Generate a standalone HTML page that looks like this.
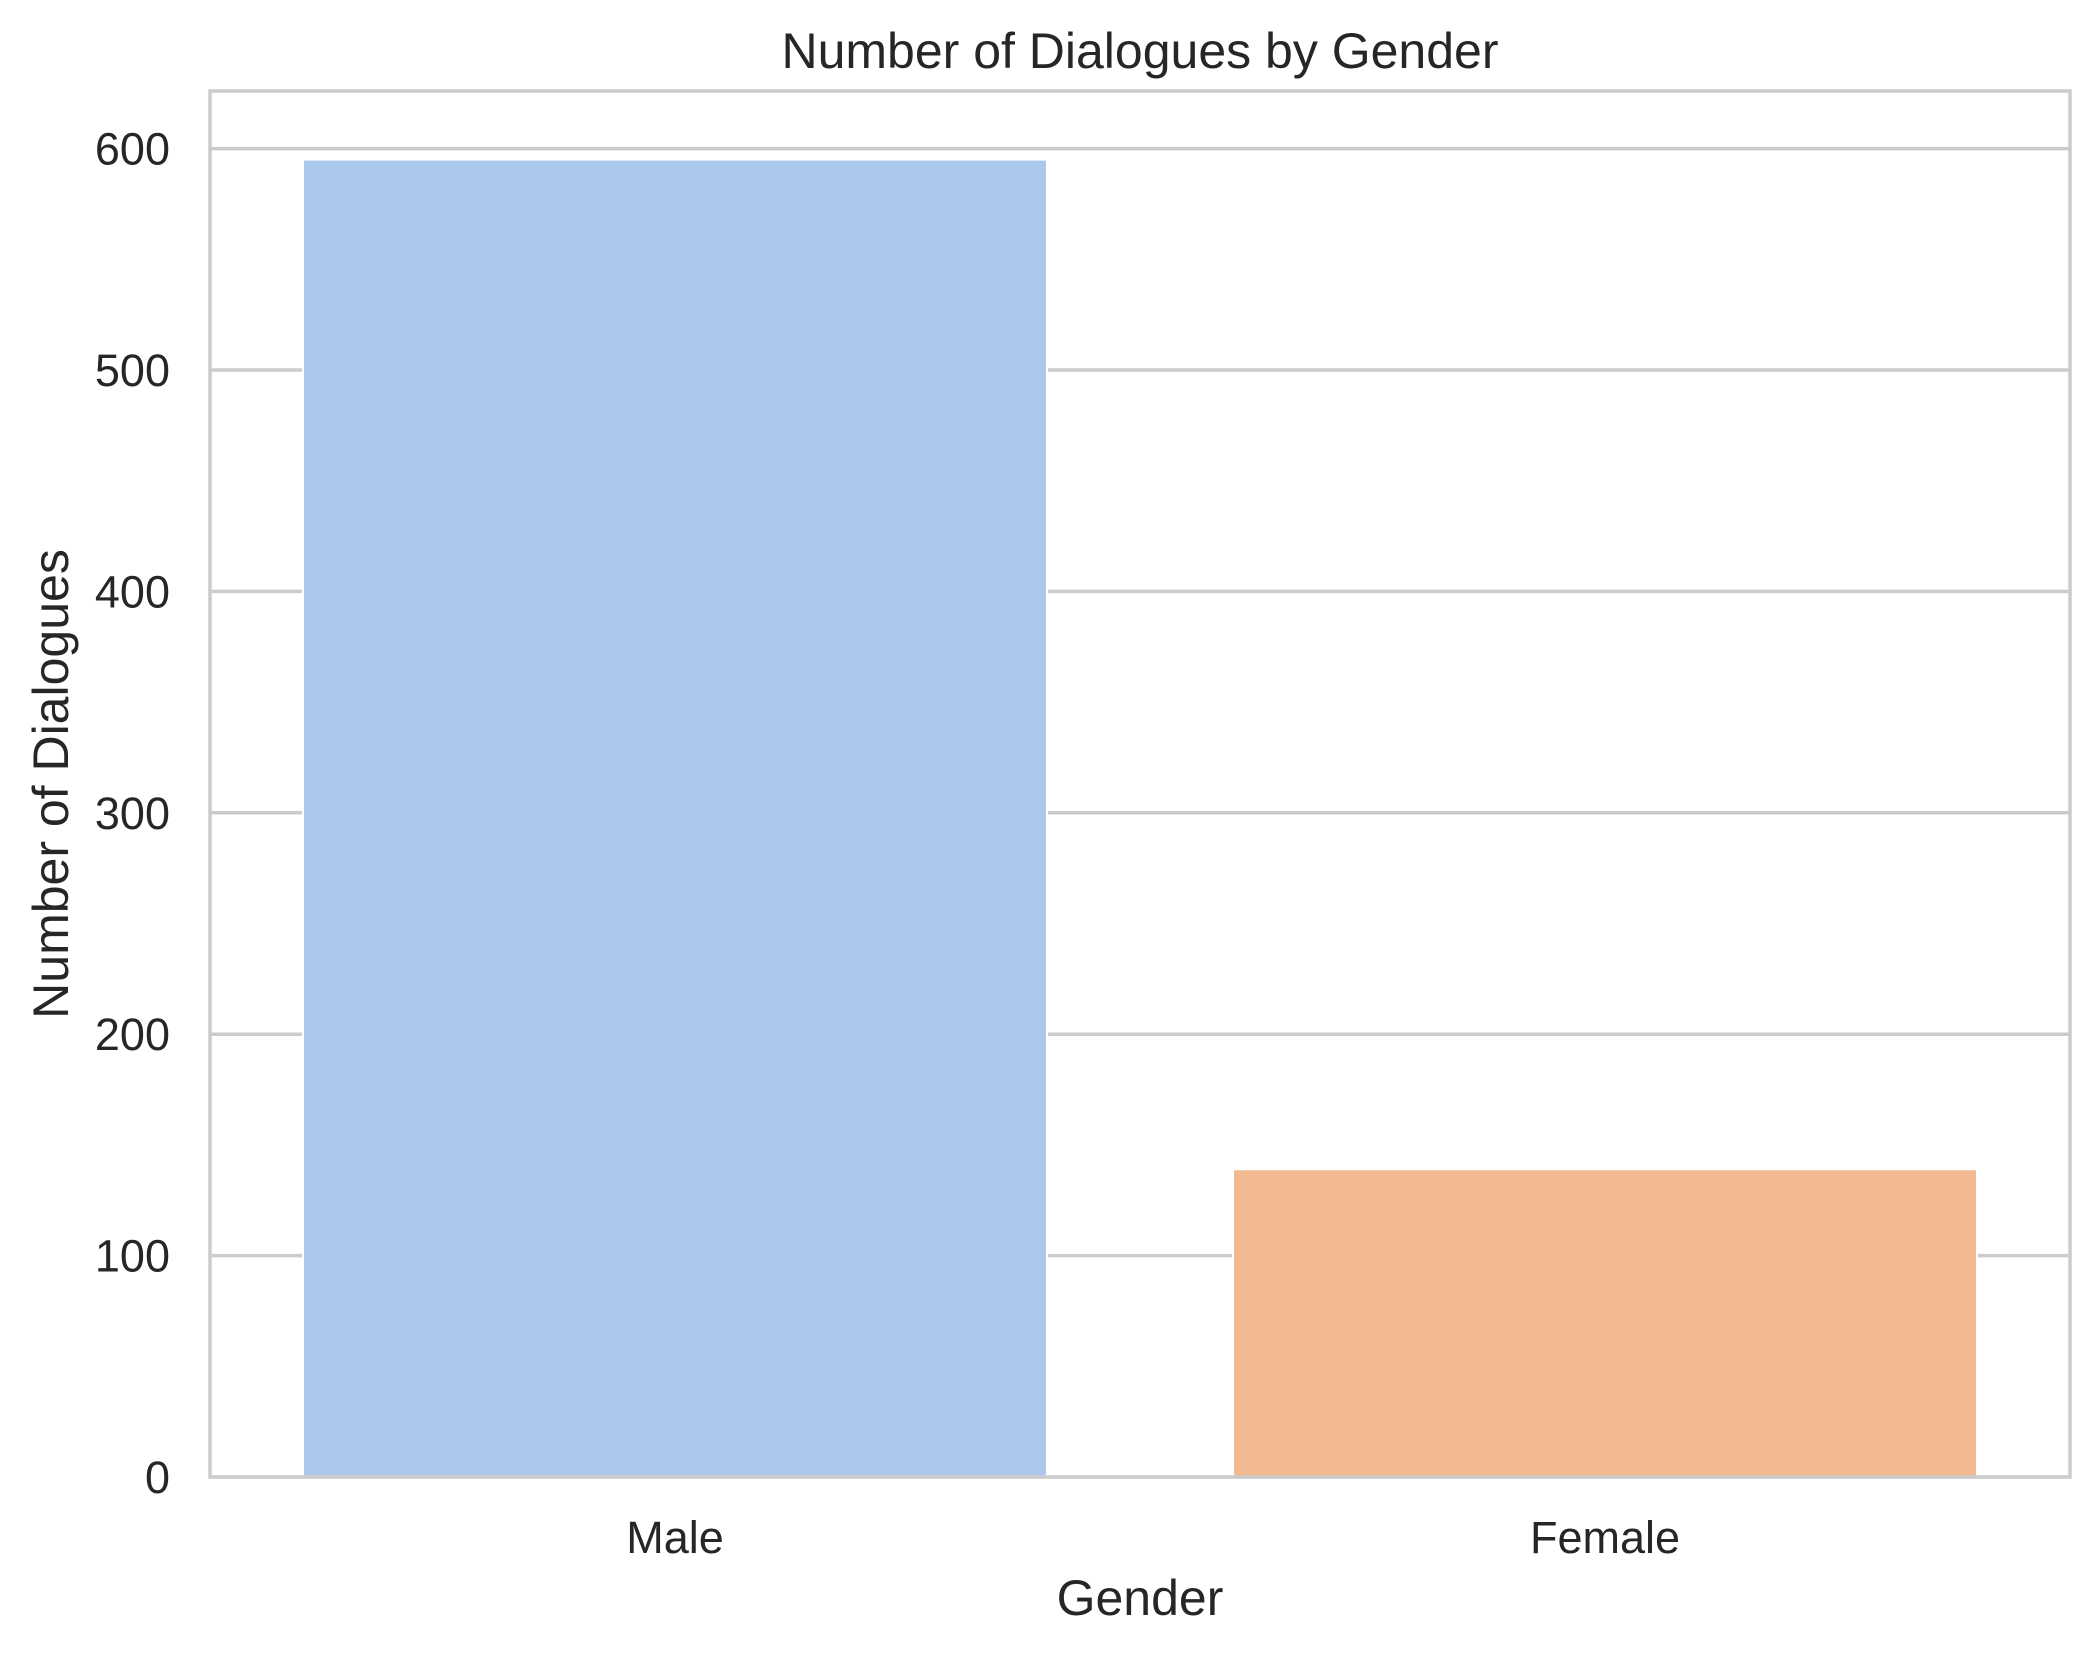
<!DOCTYPE html>
<html><head><meta charset="utf-8"><style>
body{margin:0;background:#fff;}
svg text{font-family:"Liberation Sans",Arial,sans-serif;fill:#262626;}
</style></head><body>
<svg width="2099" height="1652" xmlns="http://www.w3.org/2000/svg">
<g id="grid"></g>
<g id="bars"></g>
<rect x="210" y="91" width="1860" height="1386" fill="none" stroke="#cccccc" stroke-width="3.5"/>
<g id="yticks"></g>
<g id="xticks"></g>
<text x="1140" y="68" font-size="50" text-anchor="middle">Number of Dialogues by Gender</text>
<text x="1140" y="1615" font-size="50" text-anchor="middle">Gender</text>
<text transform="translate(68,784) rotate(-90)" font-size="50" text-anchor="middle">Number of Dialogues</text>
</svg>
<script>
const categories=["Male","Female"];
const values=[595,139];
const colors=["#abc9ec","#f1b892"];
const yTicks=[0,100,200,300,400,500,600];
const L=210,R=2070,B=1477,yMax=626;
const yScale=v=>B-(v/yMax)*(B-91);
const band=(R-L)/categories.length;
const xc=i=>L+band*(i+0.5);
const ns="http://www.w3.org/2000/svg";
const g=document.getElementById('grid'),yt=document.getElementById('yticks'),bg=document.getElementById('bars'),xt=document.getElementById('xticks');
yTicks.forEach(t=>{
 const y=yScale(t);
 const l=document.createElementNS(ns,'line');
 l.setAttribute('x1',L);l.setAttribute('x2',R);l.setAttribute('y1',y);l.setAttribute('y2',y);
 l.setAttribute('stroke','#cccccc');l.setAttribute('stroke-width','3.5');
 
 
 g.appendChild(l);
 const tx=document.createElementNS(ns,'text');
 tx.setAttribute('x',L-40);tx.setAttribute('y',y+16);tx.setAttribute('font-size','45');tx.setAttribute('text-anchor','end');
 tx.textContent=t;
 
 
 yt.appendChild(tx);
});
categories.forEach((c,i)=>{
 const w=band*0.8;
 const r=document.createElementNS(ns,'rect');
 r.setAttribute('x',xc(i)-w/2);r.setAttribute('width',w);
 r.setAttribute('y',yScale(values[i]));r.setAttribute('height',B-yScale(values[i]));
 r.setAttribute('fill',colors[i]);r.setAttribute('stroke','#ffffff');r.setAttribute('stroke-width','2');
 
 
 bg.appendChild(r);
 const tx=document.createElementNS(ns,'text');
 tx.setAttribute('x',xc(i));tx.setAttribute('y',1553);tx.setAttribute('font-size','45');tx.setAttribute('text-anchor','middle');
 tx.textContent=c;
 
 
 xt.appendChild(tx);
});
</script>
</body></html>
